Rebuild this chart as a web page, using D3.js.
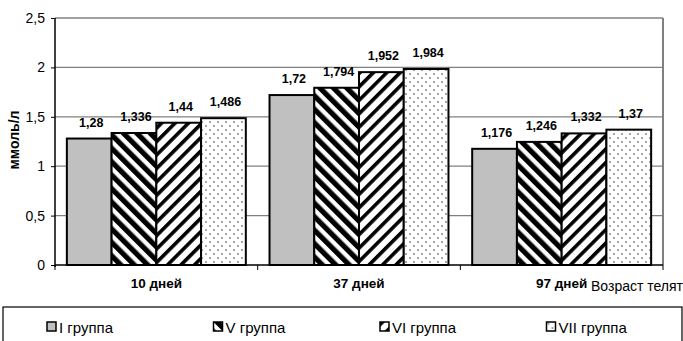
<!DOCTYPE html>
<html><head><meta charset="utf-8">
<script src="https://cdn.jsdelivr.net/npm/d3@7"></script>
<style>body{margin:0;background:#fff}svg{display:block;font-family:"Liberation Sans",Arial,sans-serif}</style>
</head><body>
<svg id="c" width="683" height="341"></svg>
<script>
const categories = ["10 дней", "37 дней", "97 дней"];
const seriesNames = ["I группа", "V группа", "VI группа", "VII группа"];
const groupI   = [1.28, 1.72, 1.176];
const groupV   = [1.336, 1.794, 1.246];
const groupVI  = [1.44, 1.952, 1.332];
const groupVII = [1.486, 1.984, 1.37];
const yTicks = [0, 0.5, 1, 1.5, 2, 2.5];
const yTitle = "ммоль/л";
const xTitle = "Возраст телят";

const seriesValues = [groupI, groupV, groupVI, groupVII];
const fills = ["#c0c0c0", "url(#pV)", "url(#pVI)", "url(#pVII)"];
const fmt = v => String(v).replace(".", ",");

const svg = d3.select("#c");
const defs = svg.append("defs");
function stripes(id, angle, period, black) {
  const p = defs.append("pattern").attr("id", id).attr("patternUnits", "userSpaceOnUse")
    .attr("width", period).attr("height", period).attr("patternTransform", `rotate(${angle})`);
  p.append("rect").attr("width", period).attr("height", period).attr("fill", "#fff");
  p.append("rect").attr("width", black).attr("height", period).attr("fill", "#000");
}
stripes("pV", -45, 9.5, 5.2);
stripes("pVI", 45, 9.5, 3.6);
const pd = defs.append("pattern").attr("id", "pVII").attr("patternUnits", "userSpaceOnUse")
  .attr("width", 8).attr("height", 8);
pd.append("rect").attr("width", 8).attr("height", 8).attr("fill", "#fff");
pd.append("circle").attr("cx", 2).attr("cy", 2).attr("r", 0.8).attr("fill", "#333");
pd.append("circle").attr("cx", 6).attr("cy", 6).attr("r", 0.8).attr("fill", "#333");

const L = 55, R = 663, T = 18, B = 265;
const y = d3.scaleLinear().domain([0, 2.5]).range([B, T]);
const x0 = d3.scaleBand().domain(categories).range([L, R]).padding(0);
const x1 = d3.scaleBand().domain(seriesNames).range([0, x0.bandwidth()]).paddingInner(0).paddingOuter(0.265);

// gridlines
svg.append("g").selectAll("line").data(yTicks.filter(t => t > 0)).join("line")
  .attr("x1", L).attr("x2", R).attr("y1", d => y(d)).attr("y2", d => y(d))
  .attr("stroke", "#808080").attr("stroke-width", 1.3);
// plot border right
svg.append("line").attr("x1", R).attr("x2", R).attr("y1", T).attr("y2", B)
  .attr("stroke", "#808080").attr("stroke-width", 2);

// bars
const gBars = svg.append("g");
categories.forEach((c, ci) => {
  seriesNames.forEach((s, si) => {
    const v = seriesValues[si][ci];
    gBars.append("rect")
      .attr("x", x0(c) + x1(s)).attr("y", y(v))
      .attr("width", x1.bandwidth()).attr("height", y(0) - y(v))
      .attr("fill", fills[si]).attr("stroke", "#000").attr("stroke-width", 2);
    gBars.append("text")
      .attr("x", x0(c) + x1(s) + x1.bandwidth() / 2 + 2).attr("y", y(v) - 12)
      .attr("text-anchor", "middle").attr("font-size", 12.5).attr("font-weight", "bold")
      .text(fmt(v));
  });
});

// y axis
const yAxis = d3.axisLeft(y).tickValues(yTicks).tickSize(4).tickPadding(6).tickFormat(d => fmt(d));
const ga = svg.append("g").attr("transform", `translate(${L},0)`).call(yAxis);
ga.select(".domain").remove();
ga.selectAll("line").attr("stroke", "#000");
ga.selectAll("text").attr("font-size", 14).attr("font-family", "Liberation Sans, Arial, sans-serif").attr("fill", "#000");
svg.append("line").attr("x1", L).attr("x2", L).attr("y1", T).attr("y2", B + 2).attr("stroke", "#000").attr("stroke-width", 1.5);

// x axis
svg.append("line").attr("x1", L).attr("x2", R).attr("y1", B).attr("y2", B).attr("stroke", "#000").attr("stroke-width", 1.5);
const bounds = categories.map(c => x0(c)).concat([R]);
svg.append("g").selectAll("line").data(bounds).join("line")
  .attr("x1", d => d).attr("x2", d => d).attr("y1", B).attr("y2", B + 5).attr("stroke", "#000");
svg.append("g").selectAll("text").data(categories).join("text")
  .attr("x", d => x0(d) + x0.bandwidth() / 2).attr("y", 288)
  .attr("text-anchor", "middle").attr("font-size", 13.5).attr("font-weight", "bold").text(d => d);
svg.append("text").attr("x", 591).attr("y", 291).attr("font-size", 14).text(xTitle);

// y title
svg.append("text").attr("transform", "translate(19,140) rotate(-90)")
  .attr("text-anchor", "middle").attr("font-size", 14).attr("font-weight", "bold").text(yTitle);

// legend
svg.append("rect").attr("x", 3).attr("y", 307).attr("width", 679).attr("height", 40)
  .attr("fill", "#fff").attr("stroke", "#000").attr("stroke-width", 1.2);
const lg = svg.append("g").selectAll("g").data(seriesNames).join("g")
  .attr("transform", (d, i) => `translate(${47 + i * 166.5},322)`);
lg.append("rect").attr("width", 9).attr("height", 9).attr("fill", (d, i) => fills[i])
  .attr("stroke", "#000").attr("stroke-width", 1.5);
lg.append("text").attr("x", 12).attr("y", 10.5).attr("font-size", 15).text(d => d);
</script>
</body></html>
